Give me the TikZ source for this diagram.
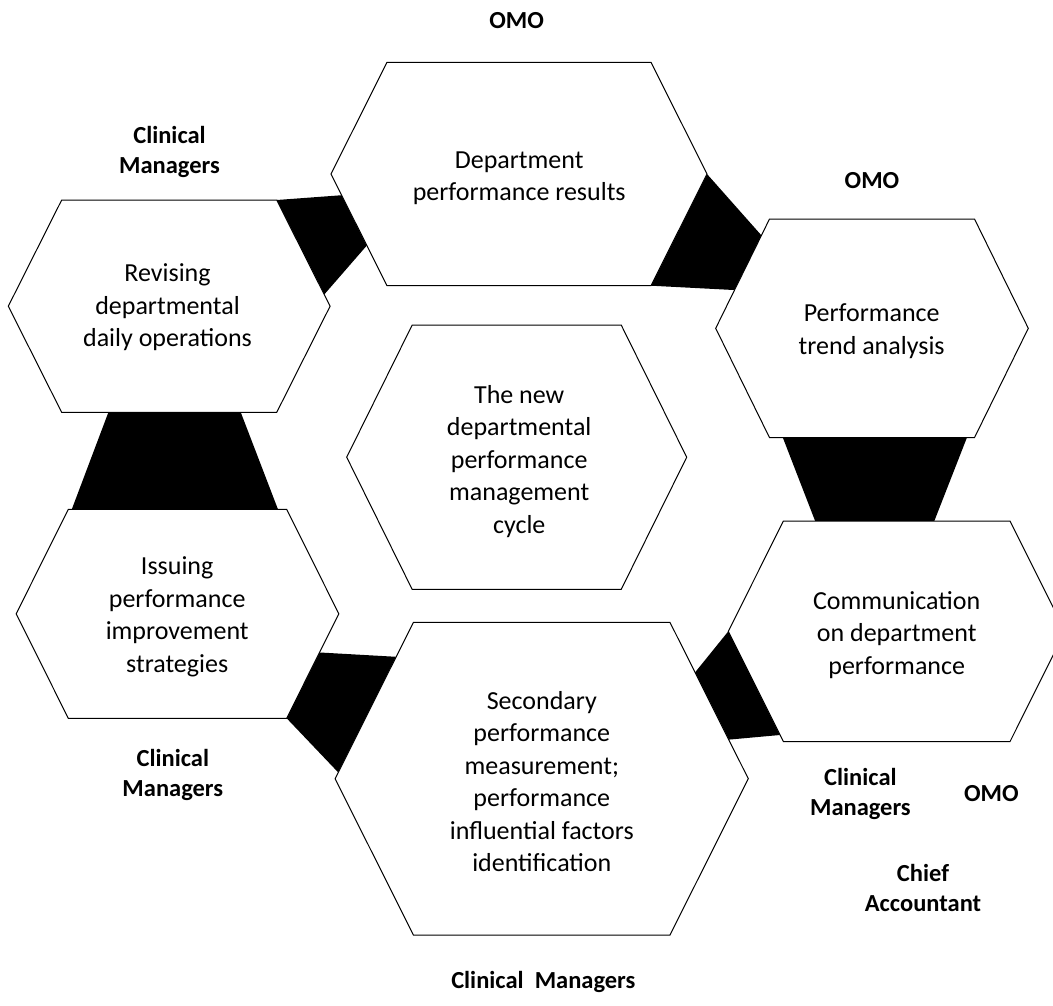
\documentclass[tikz,border=0pt]{standalone}
\usepackage{fontspec}
\setmainfont{Carlito}
\usetikzlibrary{calc}

% corners of a flat-topped hexagon: name, centre x, centre y, half width,
% half width of the top/bottom edge, half height
\newcommand\hexcorners[6]{%
  \coordinate (#1-w)  at ({#2-#4},#3);
  \coordinate (#1-nw) at ({#2-#5},{#3-#6});
  \coordinate (#1-ne) at ({#2+#5},{#3-#6});
  \coordinate (#1-e)  at ({#2+#4},#3);
  \coordinate (#1-se) at ({#2+#5},{#3+#6});
  \coordinate (#1-sw) at ({#2-#5},{#3+#6});
}
\newcommand\hexoutline[1]{%
  \filldraw[hexagon] (#1-w) -- (#1-nw) -- (#1-ne) -- (#1-e) -- (#1-se) -- (#1-sw) -- cycle;
}

\begin{document}
\begin{tikzpicture}[x=1pt,y=-1pt,
  hexagon/.style={fill=white,draw=black,line width=1pt,line join=miter},
  link/.style={fill=black},
  % multi-line nodes are placed by the baseline of their last line
  hextext/.style={font=\fontsize{26}{32.5}\selectfont,align=center,anchor=base,inner sep=0pt},
  role/.style={font=\fontsize{24.5}{30}\selectfont\bfseries,align=center,anchor=base,inner sep=0pt}]

\path[use as bounding box,fill=white] (0,0) rectangle (1053,1005);

% hexagon geometry
\hexcorners{h1}{519}{174}{188}{132}{111.7}
\hexcorners{h2}{872}{328.3}{156.3}{102.5}{109.3}
\hexcorners{h3}{896.7}{631.3}{168.4}{113.3}{110.3}
\hexcorners{h4}{541.7}{778.7}{206.6}{128.3}{156.3}
\hexcorners{h5}{177.5}{613.8}{161.3}{109.2}{104.5}
\hexcorners{h6}{169.2}{306.2}{160.9}{107.5}{106.2}
\hexcorners{h0}{516.7}{457.2}{170}{104.5}{132.2}

% black links between consecutive stages
\fill[link] (h1-e) -- ($(h2-nw)!0.15!(h2-w)$) -- ($(h2-nw)!0.65!(h2-w)$) -- (h1-se) -- cycle;
\fill[link] ($(h2-sw)!0.065!(h2-se)$) -- ($(h2-sw)!0.963!(h2-se)$)
  -- ($(h3-nw)!0.666!(h3-ne)$) -- ($(h3-nw)!0.14!(h3-ne)$) -- cycle;
\fill[link] (h3-w) -- ($(h4-ne)!0.32!(h4-e)$) -- ($(h4-ne)!0.75!(h4-e)$) -- ($(h3-w)!0.94!(h3-sw)$) -- cycle;
\fill[link] (h5-se) -- ($(h5-e)!0.37!(h5-se)$) -- ($(h4-nw)!0.22!(h4-w)$) -- ($(h4-nw)!0.96!(h4-w)$) -- cycle;
\fill[link] ($(h6-sw)!0.217!(h6-se)$) -- ($(h6-sw)!0.833!(h6-se)$)
  -- ($(h5-nw)!0.96!(h5-ne)$) -- ($(h5-nw)!0.016!(h5-ne)$) -- cycle;
\fill[link] (h6-ne) -- ($(h1-w)!0.19!(h1-sw)$) -- ($(h1-w)!0.64!(h1-sw)$) -- ($(h6-ne)!0.89!(h6-e)$) -- cycle;

% stage hexagons
\hexoutline{h1}
\hexoutline{h2}
\hexoutline{h3}
\hexoutline{h4}
\hexoutline{h5}
\hexoutline{h6}
\hexoutline{h0}

% stage texts
\node[hextext] (t1) at (519.2,200.7) {Department\\performance results};
\node[hextext] (t2) at (871.7,354) {Performance\\trend analysis};
\node[hextext] (t3) at (896.7,674.3) {Communication\\on department\\performance};
\node[hextext] (t4) at (541.8,871.7) {Secondary\\performance\\measurement;\\performance\\influential factors\\identification};
\node[hextext] (t5) at (177.2,672.3) {Issuing\\performance\\improvement\\strategies};
\node[hextext] (t6) at (167.5,346.7) {Revising\\departmental\\daily operations};
\node[hextext] (t0) at (519.2,533.3) {The new\\departmental\\performance\\management\\cycle};

% responsible parties
\node[role] (r1) at (516.7,28.3) {OMO};
\node[role] (r2) at (169.5,173.3) {Clinical\\Managers};
\node[role] (r3) at (872,188.5) {OMO};
\node[role] (r4) at (172.8,796.7) {Clinical\\Managers};
\node[role] (r5) at (860.4,815) {Clinical\\Managers};
\node[role] (r6) at (991.3,801) {OMO};
\node[role] (r7) at (923,911.7) {Chief\\Accountant};
\node[role] (r8) at (543.3,988) {Clinical\ \ Managers};
\end{tikzpicture}
\end{document}
